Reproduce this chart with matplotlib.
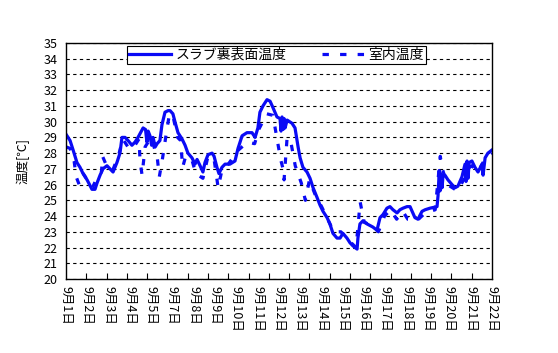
"""Slab underside surface temperature vs. room temperature, Sep 1 - Sep 22."""

import matplotlib.pyplot as plt

OUT_PNG = "out.png"

BLUE = "#0a0af5"

plt.rcParams["font.family"] = ["Noto Sans CJK JP", "DejaVu Sans"]

# slab underside surface temperature (x in days from 9/1 0:00)
slab_day = [0.00, 0.20, 0.35, 0.54, 0.69, 0.84, 1.04, 1.28, 1.43, 1.53, 1.68, 1.82,
            2.02, 2.17, 2.32, 2.51, 2.66, 2.76, 2.91, 3.06, 3.25, 3.40, 3.55, 3.80,
            3.92, 3.99, 4.05, 4.14, 4.22, 4.29, 4.40, 4.49, 4.63, 4.73, 4.88, 5.03,
            5.13, 5.27, 5.37, 5.52, 5.72, 5.87, 6.01, 6.21, 6.36, 6.46, 6.61, 6.75,
            6.85, 7.00, 7.20, 7.30, 7.44, 7.54, 7.69, 7.84, 8.08, 8.33, 8.48, 8.68,
            8.92, 9.17, 9.32, 9.46, 9.56, 9.71, 9.91, 10.06, 10.20, 10.40, 10.55, 10.60,
            10.65, 10.70, 10.75, 10.80, 10.90, 11.14, 11.29, 11.44, 11.54, 11.68, 11.88,
            12.03, 12.18, 12.37, 12.52, 12.67, 12.87, 13.01, 13.16, 13.36, 13.51, 13.65,
            13.85, 14.00, 14.15, 14.35, 14.39, 14.49, 14.64, 14.84, 14.99, 15.13, 15.33,
            15.48, 15.63, 15.82, 15.97, 16.12, 16.32, 16.46, 16.61, 16.81, 16.96, 17.20,
            17.35, 17.55, 17.70, 17.94, 18.29, 18.34, 18.40, 18.44, 18.48, 18.54, 18.58,
            18.68, 18.83, 19.03, 19.18, 19.32, 19.52, 19.67, 19.72, 19.77, 19.82, 19.87,
            20.01, 20.16, 20.31, 20.51, 20.56, 20.66, 20.80, 21.00]
slab_temp = [29.2, 28.8, 28.2, 27.4, 27.1, 26.7, 26.3, 25.7, 25.7, 26.1, 26.6, 27.0,
             27.2, 27.0, 26.8, 27.4, 28.0, 29.0, 29.0, 28.8, 28.5, 28.7, 29.0, 29.6,
             29.5, 28.7, 29.4, 29.1, 28.5, 29.0, 28.4, 28.6, 28.8, 29.8, 30.6, 30.7,
             30.7, 30.5, 30.0, 29.3, 28.9, 28.5, 28.0, 27.7, 27.3, 27.6, 27.2, 26.8,
             27.4, 27.9, 28.0, 27.8, 27.1, 26.7, 27.1, 27.3, 27.3, 27.5, 28.3, 29.1,
             29.3, 29.3, 29.0, 29.6, 30.6, 31.0, 31.4, 31.3, 30.9, 30.3, 30.2, 29.4,
             30.3, 29.5, 30.2, 29.6, 30.1, 29.9, 29.6, 28.4, 27.7, 27.1, 26.8,
             26.4, 25.8, 25.2, 24.7, 24.3, 23.9, 23.5, 22.9, 22.6, 22.6, 22.9,
             22.6, 22.3, 22.1, 21.9, 22.6, 23.5, 23.7, 23.5, 23.4, 23.3, 23.1,
             23.9, 24.1, 24.5, 24.6, 24.4, 24.2, 24.4, 24.5, 24.6, 24.6, 23.9,
             23.8, 24.3, 24.4, 24.5, 24.6, 25.3, 26.9, 25.6, 26.7, 25.8, 26.5,
             26.6, 26.3, 26.0, 25.8, 25.9, 26.5, 27.3, 26.2, 27.5, 26.4, 27.4,
             27.5, 27.1, 26.8, 27.3, 26.6, 27.7, 28.0, 28.2]

# room temperature
room_day = [0.00, 0.20, 0.40, 0.50, 0.65, 0.85, 1.05, 1.30, 1.55, 1.75, 1.80, 2.00,
            2.30, 2.60, 2.80, 3.10, 3.30, 3.60, 3.65, 3.75, 3.90, 4.20, 4.50, 4.60,
            4.75, 4.95, 5.10, 5.30, 5.50, 5.65, 5.75, 5.90, 6.20, 6.40, 6.75, 7.00,
            7.30, 7.50, 7.70, 8.00, 8.50, 8.95, 9.30, 9.50, 9.90, 10.20, 10.50, 10.60,
            10.70, 10.75, 10.90, 11.10, 11.30, 11.60, 11.80, 12.00, 12.30, 12.60, 12.90,
            13.20, 13.55, 13.90, 14.30, 14.50, 14.70, 15.10, 15.40, 15.70, 16.00, 16.30,
            16.60, 16.85, 17.00, 17.30, 17.70, 18.20, 18.45, 18.55, 18.80, 19.30, 19.60,
            19.80, 20.00, 20.30, 20.60, 20.80, 21.00]
room_temp = [28.4, 28.3, 27.5, 26.5, 26.0, 26.7, 26.3, 25.8, 26.5, 26.8, 27.8, 27.2,
             26.9, 27.9, 28.9, 28.3, 28.3, 28.9, 27.5, 26.6, 28.4, 29.0, 27.7, 26.5,
             27.6, 29.3, 30.5, 30.2, 29.0, 28.8, 27.1, 27.8, 27.6, 26.7, 26.4, 27.8,
             27.6, 25.8, 27.0, 27.3, 28.2, 28.7, 28.6, 29.5, 30.5, 30.4, 28.2, 27.5,
             27.0, 26.3, 29.0, 28.6, 27.2, 26.1, 25.0, 26.3, 25.3, 24.6, 23.8,
             23.0, 23.0, 22.5, 22.0, 24.9, 23.6, 23.4, 23.0, 24.0, 24.4, 23.8,
             24.3, 23.8, 23.8, 23.7, 24.2, 24.4, 27.8, 27.0, 26.0, 25.6, 26.3,
             27.0, 27.2, 26.8, 27.5, 27.8, 28.0]

DATE_LABELS = ["9月1日", "9月2日", "9月3日", "9月4日", "9月5日", "9月7日", "9月8日",
               "9月9日", "9月10日", "9月11日", "9月12日", "9月13日", "9月14日", "9月15日",
               "9月16日", "9月17日", "9月18日", "9月19日", "9月20日", "9月21日", "9月22日"]


def main() -> int:
    fig = plt.figure(figsize=(5.58, 3.53), dpi=100)
    ax = fig.add_axes([66 / 558, 1 - 279 / 353, 426 / 558, 236 / 353])

    ax.plot(slab_day, slab_temp, "-", color=BLUE, lw=2.3, label="スラブ裏表面温度",
            solid_joinstyle="round")
    ax.plot(room_day, room_temp, color=BLUE, lw=2.3, linestyle=(0, (2, 3.5)),
            label="室内温度", dash_capstyle="butt")

    ax.set_xlim(0, 21)
    ax.set_ylim(20, 35)
    ax.set_yticks(range(20, 36))
    ax.tick_params(axis="y", length=0, labelsize=9, pad=6)
    ax.yaxis.grid(True, color="black", linestyle=(0, (3, 3)), linewidth=0.8)
    ax.set_axisbelow(True)

    n = len(DATE_LABELS)
    ax.set_xticks([i * 21 / (n - 1) for i in range(n)])
    ax.set_xticklabels(DATE_LABELS, rotation=270, fontsize=9, va="top")
    ax.tick_params(axis="x", which="major", length=0, pad=5)
    ax.set_xticks(range(22), minor=True)
    ax.tick_params(axis="x", which="minor", direction="in", length=4, width=0.8)

    for s in ax.spines.values():
        s.set_color("black")
        s.set_linewidth(1.0)

    ax.set_ylabel("温度[℃]", fontsize=9, labelpad=10)

    leg = ax.legend(loc="center", bbox_to_anchor=(0.494, 0.949), ncol=2, fontsize=10,
                    frameon=True, fancybox=False, edgecolor="black", framealpha=1,
                    handlelength=3.0, columnspacing=2.6, borderpad=0.15, handletextpad=0.3,
                    borderaxespad=0)
    leg.get_frame().set_linewidth(0.8)

    fig.savefig(OUT_PNG, dpi=100)
    return 0


if __name__ == "__main__":
    raise SystemExit(main())
